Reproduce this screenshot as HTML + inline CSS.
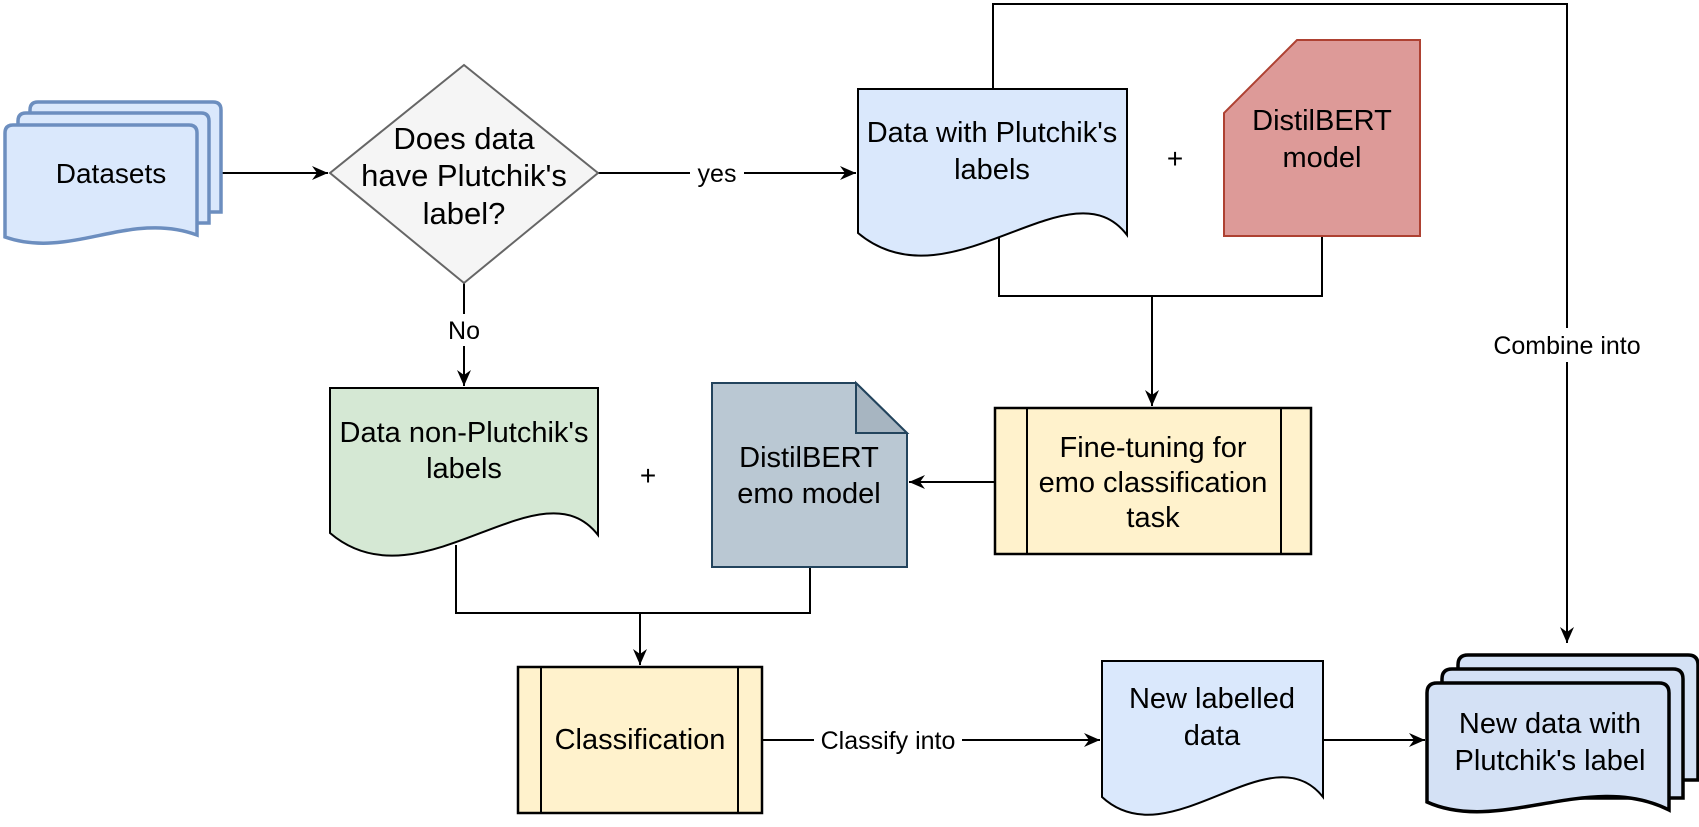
<!DOCTYPE html>
<html><head><meta charset="utf-8"><style>
html,body{margin:0;padding:0;background:#fff;}
svg{display:block;}
text{font-family:"Liberation Sans",Arial,sans-serif;fill:#000;}
</style></head><body>
<svg width="1699" height="827" viewBox="0 0 1699 827" xmlns="http://www.w3.org/2000/svg">
<defs>
<marker id="a" markerUnits="userSpaceOnUse" markerWidth="20" markerHeight="20" viewBox="0 0 20 20" refX="16" refY="10" orient="auto">
<path d="M0,3 L16,10 L0,17 L5,10 Z" fill="#000"/>
</marker>
</defs>
<g fill="none" stroke="#000" stroke-width="2">
<line x1="221" y1="173" x2="328" y2="173" marker-end="url(#a)"/>
<line x1="598" y1="173" x2="856" y2="173" marker-end="url(#a)"/>
<line x1="464" y1="283" x2="464" y2="386" marker-end="url(#a)"/>
<polyline points="999,232 999,296 1322,296 1322,236"/>
<line x1="1152" y1="296" x2="1152" y2="406" marker-end="url(#a)"/>
<polyline points="993,89 993,4 1567,4 1567,643" marker-end="url(#a)"/>
<line x1="995" y1="482" x2="909" y2="482" marker-end="url(#a)"/>
<polyline points="456,545 456,613 810,613 810,567"/>
<line x1="640" y1="613" x2="640" y2="665" marker-end="url(#a)"/>
<line x1="762" y1="740" x2="1100" y2="740" marker-end="url(#a)"/>
<line x1="1323" y1="740" x2="1425" y2="740" marker-end="url(#a)"/>
</g>
<g fill="#dae8fc" stroke="#6c8ebf" stroke-width="3.5">
<path d="M30,212 V110 Q30,102 38,102 H213 Q221,102 221,110 V212 Z"/>
<path d="M18,223 V121 Q18,113 26,113 H201 Q209,113 209,121 V223 Z"/>
<path d="M5,237 V133 Q5,125 13,125 H189 Q197,125 197,133 V235 C130,210 70,260 5,237 Z"/>
</g>
<text x="111" y="183" font-size="28" text-anchor="middle">Datasets</text>
<polygon points="464,65 598,173 464,283 330,173" fill="#f5f5f5" stroke="#666" stroke-width="2"/>
<g font-size="31" text-anchor="middle">
<text x="464" y="149">Does data</text>
<text x="464" y="186">have Plutchik's</text>
<text x="464" y="224">label?</text>
</g>
<g font-size="25" text-anchor="middle">
<rect x="690" y="158" width="54" height="32" fill="#fff"/>
<text x="717" y="182">yes</text>
<rect x="444" y="314" width="40" height="32" fill="#fff"/>
<text x="464" y="339">No</text>
<rect x="1486" y="328" width="162" height="34" fill="#fff"/>
<text x="1567" y="354">Combine into</text>
<rect x="814" y="725" width="148" height="32" fill="#fff"/>
<text x="888" y="749">Classify into</text>
</g>
<path d="M858,89 H1127 V235 C1070,160 950,310 858,233 Z" fill="#dae8fc" stroke="#000" stroke-width="2"/>
<g font-size="29" text-anchor="middle">
<text x="992" y="142">Data with Plutchik's</text>
<text x="992" y="179">labels</text>
</g>
<text x="1175" y="168" font-size="28" text-anchor="middle">+</text>
<path d="M1297,40 H1420 V236 H1224 V113 Z" fill="#dd9a98" stroke="#ae4132" stroke-width="2"/>
<g font-size="29" text-anchor="middle">
<text x="1322" y="130">DistilBERT</text>
<text x="1322" y="167">model</text>
</g>
<path d="M330,388 H598 V535 C540,460 420,610 330,533 Z" fill="#d5e8d4" stroke="#000" stroke-width="2"/>
<g font-size="29" text-anchor="middle">
<text x="464" y="442">Data non-Plutchik's</text>
<text x="464" y="478">labels</text>
</g>
<text x="648" y="485" font-size="28" text-anchor="middle">+</text>
<path d="M712,383 H856 L907,433 V567 H712 Z" fill="#bac8d3" stroke="#23445d" stroke-width="2"/>
<path d="M856,383 V433 H907 Z" fill="#a7b5c1" stroke="#23445d" stroke-width="2"/>
<g font-size="29" text-anchor="middle">
<text x="809" y="467">DistilBERT</text>
<text x="809" y="503">emo model</text>
</g>
<rect x="995" y="408" width="316" height="146" fill="#fff2cc" stroke="#000" stroke-width="2.5"/>
<line x1="1027" y1="408" x2="1027" y2="554" stroke="#000" stroke-width="2"/>
<line x1="1281" y1="408" x2="1281" y2="554" stroke="#000" stroke-width="2"/>
<g font-size="29" text-anchor="middle">
<text x="1153" y="457">Fine-tuning for</text>
<text x="1153" y="492">emo classification</text>
<text x="1153" y="527">task</text>
</g>
<rect x="518" y="667" width="244" height="146" fill="#fff2cc" stroke="#000" stroke-width="2.5"/>
<line x1="541" y1="667" x2="541" y2="813" stroke="#000" stroke-width="2"/>
<line x1="738" y1="667" x2="738" y2="813" stroke="#000" stroke-width="2"/>
<text x="640" y="749" font-size="29" text-anchor="middle">Classification</text>
<path d="M1102,661 H1323 V797 C1270,730 1170,860 1102,797 Z" fill="#dae8fc" stroke="#000" stroke-width="2"/>
<g font-size="29" text-anchor="middle">
<text x="1212" y="708">New labelled</text>
<text x="1212" y="745">data</text>
</g>
<g fill="#d4e1f5" stroke="#000" stroke-width="3.5">
<path d="M1458,780 V665 Q1458,655 1468,655 H1688 Q1698,655 1698,665 V780 Z"/>
<path d="M1442,798 V679 Q1442,669 1452,669 H1673 Q1683,669 1683,679 V798 Z"/>
<path d="M1427,802 V693 Q1427,683 1437,683 H1659 Q1669,683 1669,693 V810 C1590,770 1500,835 1427,802 Z"/>
</g>
<g font-size="29" text-anchor="middle">
<text x="1550" y="733">New data with</text>
<text x="1550" y="770">Plutchik's label</text>
</g>
</svg>
</body></html>
